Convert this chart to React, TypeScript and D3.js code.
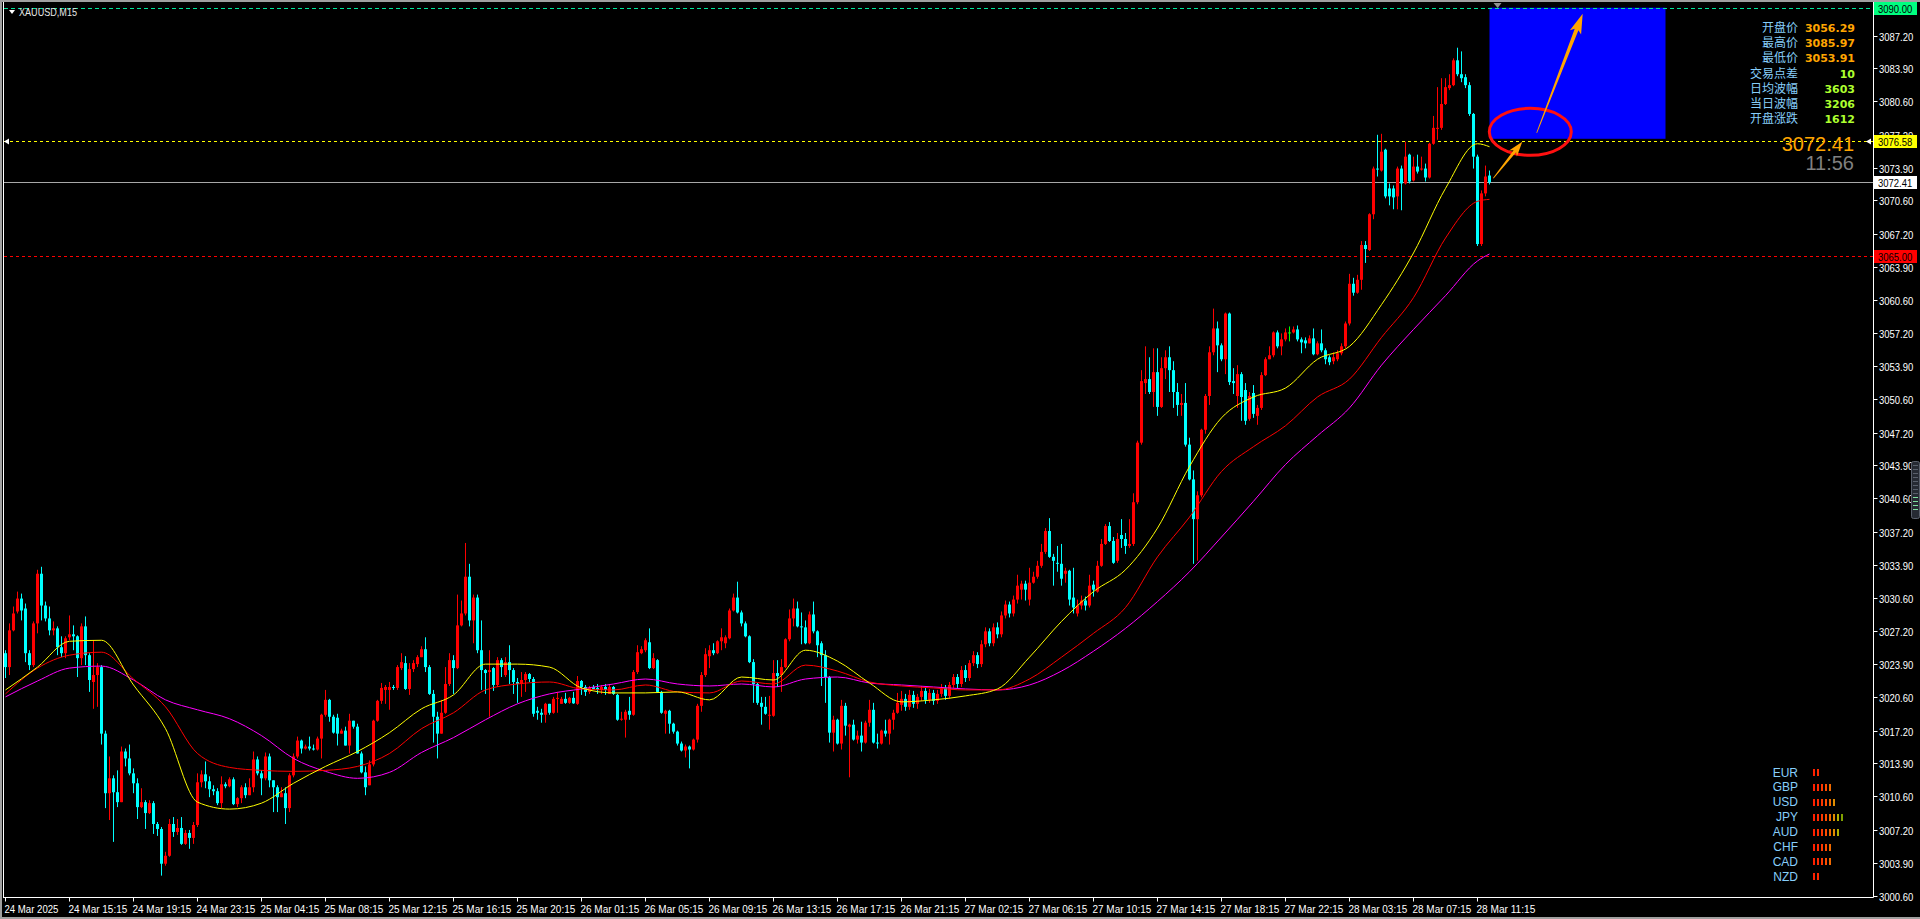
import { useEffect, useRef } from "react";
import * as d3 from "d3";

const W = 1920;
const H = 919;

// time axis labels, one every 16 bars (4h of M15)
const timeLabels = [
  "24 Mar 2025", "24 Mar 15:15", "24 Mar 19:15", "24 Mar 23:15", "25 Mar 04:15", "25 Mar 08:15",
  "25 Mar 12:15", "25 Mar 16:15", "25 Mar 20:15", "26 Mar 01:15", "26 Mar 05:15", "26 Mar 09:15",
  "26 Mar 13:15", "26 Mar 17:15", "26 Mar 21:15", "27 Mar 02:15", "27 Mar 06:15", "27 Mar 10:15",
  "27 Mar 14:15", "27 Mar 18:15", "27 Mar 22:15", "28 Mar 03:15", "28 Mar 07:15", "28 Mar 11:15",
];

const priceTicks = [
  "3087.20", "3083.90", "3080.60", "3077.20", "3073.90", "3070.60", "3067.20", "3063.90", "3060.60",
  "3057.20", "3053.90", "3050.60", "3047.20", "3043.90", "3040.60", "3037.20", "3033.90", "3030.60",
  "3027.20", "3023.90", "3020.60", "3017.20", "3013.90", "3010.60", "3007.20", "3003.90", "3000.60",
];

// XAUUSD M15 candles
const open = [
  3025.0, 3023.6, 3027.3, 3029.2, 3030.5, 3029.5, 3025.0, 3023.8, 3028.0, 3033.0,
  3029.8, 3028.5, 3027.3, 3027.5, 3025.6, 3025.0, 3026.6, 3026.9, 3026.7, 3024.5,
  3027.7, 3024.8, 3022.1, 3022.8, 3023.6, 3016.9, 3010.9, 3012.4, 3011.0, 3010.0,
  3015.1, 3014.4, 3012.9, 3011.9, 3009.5, 3010.0, 3008.9, 3009.9, 3007.8, 3007.3,
  3003.8, 3004.6, 3007.8, 3007.0, 3007.4, 3005.8, 3006.9, 3006.4, 3007.7, 3012.0,
  3012.8, 3012.1, 3011.3, 3011.1, 3009.9, 3011.8, 3011.6, 3012.3, 3009.8, 3010.4,
  3011.5, 3010.7, 3011.5, 3014.3, 3012.9, 3012.4, 3014.6, 3012.2, 3011.5, 3010.5,
  3010.9, 3009.4, 3012.7, 3014.6, 3016.2, 3015.4, 3015.6, 3015.4, 3015.3, 3016.4,
  3018.8, 3020.3, 3018.6, 3018.5, 3016.9, 3017.2, 3015.7, 3018.2, 3017.6, 3014.9,
  3013.0, 3011.7, 3013.8, 3018.2, 3020.2, 3021.3, 3021.3, 3021.6, 3021.5, 3023.5,
  3024.0, 3021.4, 3023.4, 3023.9, 3024.6, 3025.4, 3023.6, 3020.9, 3018.6, 3016.9,
  3019.0, 3021.9, 3024.3, 3023.5, 3027.8, 3029.0, 3032.7, 3028.3, 3030.6, 3025.3,
  3023.3, 3023.1, 3023.5, 3021.8, 3024.3, 3022.8, 3024.1, 3023.3, 3022.1, 3021.9,
  3022.3, 3022.9, 3022.4, 3019.2, 3019.0, 3018.8, 3019.9, 3019.0, 3020.4, 3019.9,
  3020.4, 3020.0, 3020.5, 3019.9, 3022.2, 3021.6, 3021.1, 3021.6, 3021.5, 3021.3,
  3021.6, 3020.9, 3021.6, 3020.8, 3018.3, 3018.3, 3019.2, 3018.8, 3023.1, 3025.0,
  3025.3, 3026.1, 3023.5, 3024.3, 3021.1, 3018.9, 3019.2, 3017.9, 3017.1, 3015.9,
  3015.2, 3015.6, 3015.3, 3016.3, 3019.7, 3022.8, 3024.7, 3025.3, 3025.0, 3026.2,
  3026.0, 3026.5, 3029.3, 3030.6, 3029.1, 3028.0, 3026.7, 3024.1, 3021.9, 3020.0,
  3019.6, 3018.7, 3018.7, 3023.0, 3022.8, 3023.6, 3026.4, 3028.5, 3029.5, 3027.7,
  3027.6, 3026.0, 3028.9, 3027.2, 3026.0, 3024.8, 3022.6, 3017.0, 3018.3, 3015.9,
  3019.7, 3017.6, 3017.8, 3016.3, 3016.7, 3016.0, 3018.0, 3019.3, 3016.0, 3015.9,
  3017.2, 3016.9, 3018.3, 3019.0, 3019.8, 3020.4, 3019.6, 3020.8, 3019.9, 3020.6,
  3021.2, 3020.3, 3021.0, 3020.2, 3020.9, 3021.5, 3020.7, 3021.8, 3022.6, 3021.9,
  3023.3, 3022.5, 3024.0, 3024.8, 3023.9, 3025.9, 3027.2, 3026.0, 3027.6, 3026.9,
  3028.8, 3029.9, 3029.0, 3030.4, 3031.4, 3032.0, 3030.4, 3032.1, 3032.7, 3033.8,
  3035.2, 3037.3, 3034.7, 3034.1, 3034.0, 3033.0, 3033.3, 3030.6, 3029.0, 3029.8,
  3030.3, 3029.8, 3031.9, 3031.2, 3033.8, 3036.0, 3037.8, 3036.3, 3034.3, 3036.9,
  3036.5, 3035.8, 3036.0, 3040.2, 3046.2, 3052.2, 3052.6, 3051.3, 3053.3, 3049.8,
  3053.7, 3054.8, 3053.5, 3051.3, 3050.0, 3050.2, 3046.0, 3042.5, 3038.5, 3040.9,
  3047.5, 3050.9, 3055.3, 3057.7, 3056.0, 3054.6, 3059.2, 3052.4, 3050.9, 3053.1,
  3051.5, 3048.6, 3051.2, 3048.9, 3049.7, 3053.0, 3054.6, 3055.0, 3057.3, 3055.9,
  3056.6, 3057.3, 3057.3, 3057.6, 3056.6, 3056.5, 3056.2, 3056.7, 3055.1, 3056.2,
  3055.5, 3054.8, 3054.4, 3054.6, 3055.2, 3055.9, 3058.2, 3062.2, 3061.3, 3062.6,
  3066.1, 3065.6, 3069.2, 3073.8, 3073.6, 3075.7, 3071.8, 3071.8, 3071.0, 3073.8,
  3072.3, 3075.2, 3072.6, 3074.0, 3073.7, 3073.8, 3072.9, 3076.3, 3077.8, 3077.9,
  3080.3, 3081.9, 3082.2, 3084.7, 3083.3, 3083.0, 3082.2, 3079.3, 3075.0, 3066.2,
  3071.3, 3073.1,
];

const high = [
  3025.3, 3028.0, 3029.7, 3031.2, 3031.0, 3030.0, 3025.3, 3028.2, 3033.4, 3033.7,
  3030.2, 3029.7, 3028.2, 3027.7, 3026.7, 3026.7, 3028.8, 3027.8, 3026.8, 3028.0,
  3028.7, 3025.0, 3026.3, 3024.0, 3023.8, 3017.2, 3014.6, 3012.7, 3013.2, 3015.6,
  3015.4, 3015.8, 3013.4, 3012.4, 3011.4, 3010.2, 3010.2, 3010.1, 3008.0, 3007.5,
  3005.0, 3008.3, 3008.5, 3008.3, 3008.5, 3007.2, 3007.2, 3008.0, 3012.9, 3013.2,
  3014.1, 3012.6, 3011.7, 3011.4, 3012.6, 3012.0, 3012.5, 3012.5, 3010.5, 3011.7,
  3011.9, 3012.4, 3015.1, 3014.6, 3013.2, 3015.0, 3014.9, 3012.2, 3011.7, 3011.5,
  3011.5, 3012.9, 3014.9, 3016.6, 3016.3, 3015.8, 3016.6, 3015.8, 3016.6, 3018.9,
  3021.3, 3020.4, 3018.8, 3018.9, 3017.4, 3017.6, 3018.9, 3018.2, 3017.9, 3015.1,
  3013.6, 3014.2, 3018.3, 3020.3, 3022.0, 3021.8, 3022.1, 3021.8, 3023.8, 3025.0,
  3024.7, 3024.0, 3024.3, 3024.8, 3025.7, 3026.6, 3023.8, 3021.3, 3019.1, 3020.3,
  3023.6, 3025.0, 3024.8, 3030.9, 3030.3, 3036.1, 3034.0, 3030.9, 3030.9, 3028.3,
  3023.4, 3025.3, 3023.6, 3024.6, 3024.5, 3024.6, 3025.8, 3023.5, 3022.5, 3023.1,
  3023.1, 3023.0, 3022.6, 3019.6, 3019.4, 3020.0, 3019.9, 3020.6, 3021.1, 3020.6,
  3021.0, 3020.6, 3021.1, 3022.7, 3022.3, 3021.8, 3021.7, 3021.8, 3021.9, 3021.8,
  3021.9, 3021.9, 3021.7, 3020.9, 3019.1, 3019.3, 3020.6, 3023.3, 3025.8, 3025.7,
  3026.5, 3027.5, 3025.0, 3024.4, 3021.2, 3019.3, 3019.3, 3018.0, 3017.2, 3016.1,
  3015.8, 3015.7, 3016.4, 3019.9, 3023.1, 3025.5, 3025.8, 3026.0, 3026.3, 3027.5,
  3026.8, 3029.5, 3031.0, 3032.2, 3029.3, 3028.2, 3026.8, 3024.4, 3022.0, 3020.6,
  3020.6, 3020.7, 3024.3, 3024.3, 3024.4, 3026.5, 3029.4, 3030.5, 3030.2, 3029.1,
  3028.3, 3029.2, 3030.2, 3027.3, 3026.2, 3025.3, 3022.7, 3018.7, 3018.4, 3020.3,
  3020.0, 3017.9, 3018.3, 3017.2, 3018.1, 3018.2, 3020.3, 3020.0, 3016.9, 3017.3,
  3018.3, 3018.4, 3019.3, 3021.0, 3021.2, 3020.9, 3021.3, 3021.2, 3020.9, 3021.7,
  3021.5, 3021.4, 3021.3, 3021.3, 3021.9, 3021.8, 3022.1, 3022.9, 3022.9, 3023.7,
  3023.8, 3024.3, 3025.2, 3025.1, 3026.3, 3027.6, 3027.5, 3028.0, 3028.1, 3029.2,
  3030.3, 3030.2, 3030.8, 3032.9, 3032.3, 3032.3, 3033.6, 3033.2, 3034.3, 3036.0,
  3037.6, 3038.6, 3035.0, 3035.8, 3036.0, 3033.6, 3033.4, 3033.6, 3030.4, 3030.8,
  3030.7, 3032.9, 3032.3, 3034.3, 3036.5, 3038.0, 3038.2, 3036.7, 3037.1, 3038.5,
  3037.1, 3038.5, 3041.1, 3046.4, 3053.5, 3055.9, 3054.8, 3055.7, 3055.7, 3054.8,
  3055.5, 3055.9, 3054.4, 3052.2, 3051.1, 3052.2, 3046.7, 3043.4, 3041.3, 3047.6,
  3051.1, 3055.9, 3059.7, 3058.4, 3056.2, 3059.3, 3059.3, 3053.7, 3054.0, 3053.3,
  3052.2, 3051.3, 3052.0, 3050.0, 3053.3, 3054.8, 3055.9, 3057.4, 3057.5, 3057.2,
  3057.7, 3057.9, 3057.9, 3058.0, 3056.8, 3056.8, 3057.0, 3057.7, 3056.4, 3057.6,
  3055.7, 3055.0, 3055.3, 3055.5, 3056.2, 3058.4, 3063.2, 3062.8, 3063.1, 3066.5,
  3066.5, 3069.3, 3074.0, 3077.2, 3077.3, 3075.8, 3072.3, 3072.1, 3074.0, 3074.1,
  3076.5, 3075.3, 3075.0, 3075.2, 3075.0, 3074.3, 3076.4, 3079.1, 3082.0, 3082.9,
  3082.9, 3083.3, 3084.9, 3085.97, 3085.6, 3083.3, 3082.5, 3079.4, 3075.2, 3071.6,
  3074.1, 3073.6,
];

const low = [
  3022.5, 3022.8, 3027.2, 3029.0, 3028.3, 3024.1, 3023.3, 3023.6, 3027.0, 3028.3,
  3028.2, 3026.8, 3026.8, 3024.8, 3024.6, 3024.5, 3026.3, 3025.3, 3022.6, 3023.8,
  3023.8, 3021.1, 3019.4, 3019.6, 3015.8, 3009.4, 3008.2, 3006.0, 3009.5, 3010.0,
  3013.6, 3012.7, 3010.9, 3008.3, 3009.4, 3007.3, 3008.8, 3006.8, 3006.6, 3002.6,
  3003.6, 3004.5, 3006.5, 3006.7, 3005.7, 3005.7, 3005.3, 3005.8, 3007.5, 3011.5,
  3011.4, 3010.5, 3010.7, 3009.7, 3009.4, 3011.4, 3011.5, 3009.7, 3009.5, 3009.9,
  3010.4, 3010.7, 3011.0, 3012.7, 3010.7, 3012.2, 3011.5, 3009.0, 3009.0, 3010.5,
  3007.8, 3009.0, 3012.5, 3014.4, 3014.9, 3015.3, 3015.2, 3015.2, 3015.2, 3014.4,
  3018.6, 3018.1, 3016.9, 3015.7, 3016.9, 3015.7, 3014.9, 3017.4, 3014.9, 3012.9,
  3010.7, 3011.7, 3013.6, 3018.1, 3019.9, 3019.9, 3019.3, 3021.3, 3021.3, 3023.3,
  3021.3, 3020.8, 3023.1, 3023.6, 3024.6, 3023.1, 3020.8, 3016.0, 3014.4, 3016.9,
  3018.9, 3021.7, 3020.9, 3023.4, 3027.7, 3028.8, 3027.7, 3026.0, 3025.0, 3021.3,
  3020.9, 3018.6, 3021.2, 3021.6, 3022.6, 3022.6, 3021.9, 3020.9, 3020.0, 3020.6,
  3021.1, 3022.1, 3018.6, 3018.3, 3018.0, 3018.0, 3018.8, 3018.9, 3019.0, 3019.9,
  3019.9, 3019.9, 3019.9, 3019.8, 3020.8, 3020.7, 3020.9, 3021.3, 3020.9, 3020.9,
  3020.8, 3020.9, 3020.8, 3018.2, 3018.2, 3016.5, 3018.3, 3018.7, 3022.9, 3024.9,
  3025.1, 3023.4, 3023.4, 3021.0, 3018.9, 3016.9, 3016.9, 3016.9, 3015.7, 3015.1,
  3014.5, 3013.4, 3015.2, 3016.0, 3019.1, 3022.6, 3023.5, 3024.8, 3024.9, 3025.3,
  3025.5, 3026.4, 3029.2, 3029.0, 3027.7, 3026.6, 3024.0, 3020.0, 3019.8, 3017.8,
  3018.8, 3017.3, 3018.6, 3021.6, 3021.1, 3023.5, 3026.2, 3027.7, 3027.6, 3025.9,
  3025.9, 3025.9, 3027.0, 3024.6, 3021.7, 3020.0, 3016.0, 3015.1, 3015.8, 3015.3,
  3016.7, 3012.5, 3016.2, 3015.9, 3015.1, 3015.9, 3017.6, 3015.9, 3015.4, 3015.8,
  3016.6, 3015.8, 3017.3, 3018.9, 3019.2, 3019.2, 3019.3, 3019.5, 3019.4, 3020.2,
  3019.9, 3020.0, 3019.8, 3019.9, 3020.6, 3020.3, 3020.4, 3021.5, 3021.5, 3021.6,
  3022.1, 3022.2, 3023.7, 3023.5, 3023.6, 3025.6, 3025.7, 3025.7, 3026.5, 3026.6,
  3028.5, 3028.6, 3028.7, 3030.0, 3030.4, 3030.3, 3029.8, 3032.0, 3032.5, 3033.6,
  3035.0, 3034.6, 3031.8, 3033.2, 3031.8, 3032.1, 3029.8, 3029.0, 3028.7, 3029.4,
  3029.3, 3029.6, 3030.7, 3031.1, 3033.7, 3035.9, 3036.2, 3034.0, 3034.1, 3035.6,
  3035.0, 3035.6, 3035.8, 3040.0, 3046.0, 3051.1, 3051.1, 3049.8, 3048.9, 3049.7,
  3052.6, 3051.3, 3049.7, 3048.9, 3048.9, 3045.8, 3042.4, 3034.0, 3034.3, 3040.7,
  3047.1, 3050.0, 3055.0, 3053.3, 3054.4, 3053.1, 3052.0, 3051.1, 3049.7, 3048.4,
  3048.0, 3048.4, 3048.7, 3048.0, 3049.5, 3052.9, 3054.6, 3054.8, 3055.7, 3055.0,
  3056.4, 3056.4, 3057.2, 3056.4, 3055.2, 3055.7, 3056.2, 3055.0, 3055.0, 3055.3,
  3054.1, 3054.0, 3054.1, 3054.4, 3055.0, 3055.7, 3058.0, 3061.0, 3061.2, 3061.6,
  3064.3, 3065.5, 3068.7, 3073.0, 3073.5, 3070.8, 3070.1, 3069.7, 3069.7, 3069.6,
  3072.2, 3072.3, 3072.5, 3073.3, 3073.6, 3072.5, 3072.8, 3076.2, 3076.7, 3077.7,
  3080.2, 3081.7, 3082.1, 3083.1, 3082.5, 3081.9, 3079.1, 3073.8, 3066.0, 3066.0,
  3071.0, 3072.2,
];

const close = [
  3023.6, 3027.3, 3029.0, 3030.5, 3029.3, 3025.0, 3023.8, 3028.0, 3033.0, 3029.8,
  3028.5, 3027.3, 3027.5, 3025.6, 3025.0, 3026.5, 3026.9, 3026.7, 3024.5, 3027.7,
  3024.8, 3022.3, 3022.8, 3023.6, 3016.9, 3010.9, 3012.4, 3011.0, 3010.0, 3015.1,
  3014.4, 3012.9, 3011.9, 3009.5, 3010.0, 3008.9, 3009.9, 3007.8, 3007.3, 3003.8,
  3004.6, 3007.8, 3007.0, 3007.4, 3005.8, 3006.9, 3006.4, 3007.7, 3012.0, 3012.8,
  3012.1, 3011.3, 3011.1, 3009.9, 3011.8, 3011.6, 3012.3, 3009.8, 3010.4, 3011.5,
  3010.7, 3011.5, 3014.3, 3012.9, 3012.4, 3014.6, 3012.2, 3011.5, 3010.5, 3010.9,
  3009.4, 3012.7, 3014.6, 3016.2, 3015.4, 3015.6, 3015.4, 3015.3, 3016.4, 3018.8,
  3020.3, 3018.6, 3017.0, 3016.9, 3017.2, 3015.7, 3018.2, 3017.6, 3014.9, 3013.0,
  3011.5, 3013.8, 3018.2, 3020.2, 3021.5, 3021.6, 3021.6, 3021.5, 3023.6, 3024.1,
  3021.4, 3023.4, 3024.0, 3024.6, 3025.4, 3023.6, 3020.9, 3018.6, 3016.9, 3019.0,
  3021.9, 3024.3, 3023.5, 3027.8, 3029.0, 3032.7, 3028.3, 3030.6, 3025.3, 3023.3,
  3023.0, 3023.3, 3021.8, 3024.3, 3023.6, 3024.1, 3023.3, 3022.1, 3021.9, 3022.3,
  3022.9, 3022.4, 3018.9, 3019.0, 3018.8, 3019.9, 3019.0, 3020.4, 3020.5, 3020.4,
  3020.0, 3020.5, 3019.95, 3022.2, 3021.6, 3021.1, 3021.5, 3021.4, 3021.3, 3021.6,
  3021.3, 3021.6, 3020.9, 3018.3, 3018.4, 3019.1, 3018.8, 3023.1, 3025.1, 3025.4,
  3026.3, 3023.5, 3024.5, 3021.1, 3019.0, 3019.2, 3017.9, 3017.1, 3015.9, 3015.2,
  3015.6, 3015.3, 3016.3, 3019.7, 3022.8, 3024.9, 3025.3, 3025.0, 3026.2, 3026.6,
  3026.6, 3029.3, 3030.6, 3029.1, 3028.0, 3026.7, 3024.1, 3021.9, 3020.0, 3019.6,
  3018.9, 3018.8, 3023.0, 3022.7, 3023.6, 3026.4, 3028.5, 3029.5, 3027.7, 3027.6,
  3026.0, 3028.9, 3027.2, 3025.8, 3024.8, 3022.6, 3017.0, 3018.3, 3015.9, 3019.7,
  3017.7, 3017.8, 3016.3, 3016.7, 3016.0, 3018.0, 3019.3, 3016.0, 3015.9, 3017.2,
  3016.9, 3018.3, 3019.0, 3020.0, 3020.4, 3019.6, 3020.8, 3019.9, 3020.6, 3021.2,
  3020.3, 3021.0, 3020.2, 3020.9, 3021.5, 3020.7, 3021.8, 3022.6, 3021.9, 3023.3,
  3022.5, 3024.0, 3024.8, 3023.9, 3025.9, 3027.2, 3026.0, 3027.6, 3026.9, 3028.8,
  3029.9, 3029.0, 3030.4, 3031.8, 3032.0, 3031.4, 3032.1, 3032.7, 3033.8, 3035.2,
  3037.3, 3034.7, 3034.3, 3034.0, 3032.5, 3033.3, 3030.4, 3029.6, 3029.8, 3030.3,
  3029.8, 3031.8, 3031.4, 3033.8, 3036.0, 3037.8, 3036.3, 3034.1, 3036.5, 3036.5,
  3035.8, 3036.0, 3040.2, 3046.2, 3052.4, 3052.6, 3051.3, 3053.3, 3049.8, 3053.7,
  3054.8, 3053.5, 3051.3, 3050.0, 3050.2, 3046.0, 3042.5, 3038.5, 3040.9, 3047.5,
  3050.9, 3055.3, 3057.7, 3056.0, 3054.6, 3059.2, 3052.3, 3052.2, 3053.1, 3050.8,
  3048.4, 3050.9, 3049.1, 3049.7, 3053.0, 3054.6, 3055.0, 3057.3, 3055.9, 3056.6,
  3057.3, 3057.3, 3057.6, 3056.6, 3056.3, 3056.2, 3056.7, 3055.1, 3056.2, 3055.5,
  3054.6, 3054.3, 3054.8, 3055.2, 3055.9, 3058.2, 3062.2, 3061.3, 3062.6, 3066.1,
  3065.7, 3069.2, 3073.8, 3073.7, 3075.5, 3071.0, 3071.0, 3070.9, 3073.8, 3072.3,
  3075.0, 3072.5, 3074.0, 3073.5, 3073.8, 3072.9, 3076.3, 3077.9, 3077.9, 3080.3,
  3082.0, 3082.2, 3084.7, 3083.3, 3082.9, 3082.2, 3079.3, 3075.0, 3066.2, 3071.3,
  3073.0, 3072.41,
];

// moving averages read every 8 bars
const maBars = [
  0, 8, 16, 24, 32, 40, 48, 56, 64, 72, 80, 88, 96, 104, 112, 120, 128, 136, 144, 152, 160, 168, 176, 184,
  192, 200, 208, 216, 224, 232, 240, 248, 256, 264, 272, 280, 288, 296, 304, 312, 320, 328, 336, 344, 352,
  360, 368, 371,
];
const maFast = [
  3021.3, 3023.6, 3026.2, 3026.3, 3021.8, 3017.4, 3010.0, 3009.3, 3009.9, 3011.9, 3013.6, 3015.1, 3017.0,
  3019.4, 3020.8, 3023.9, 3023.9, 3023.6, 3021.5, 3021.0, 3021.0, 3021.1, 3020.3, 3022.6, 3022.3, 3025.3,
  3024.2, 3022.0, 3020.1, 3020.3, 3020.7, 3021.4, 3024.6, 3028.2, 3031.2, 3033.4, 3037.6, 3043.8, 3048.7,
  3050.8, 3051.7, 3054.6, 3055.9, 3060.1, 3065.3, 3071.8, 3076.3, 3076.0,
];
const maMid = [
  3020.9, 3023.5, 3024.8, 3025.1, 3022.4, 3019.6, 3014.9, 3013.5, 3013.2, 3013.1, 3013.2, 3013.6, 3014.9,
  3017.4, 3019.0, 3021.3, 3021.9, 3022.1, 3021.4, 3021.3, 3021.8, 3021.1, 3021.0, 3022.2, 3021.9, 3023.8,
  3023.2, 3022.1, 3021.7, 3021.5, 3021.3, 3021.3, 3022.4, 3024.6, 3027.0, 3029.6, 3034.7, 3038.7, 3043.3,
  3045.8, 3047.9, 3050.8, 3052.6, 3056.8, 3060.8, 3066.8, 3070.5, 3070.7,
];
const maSlow = [
  3020.6, 3022.2, 3023.5, 3023.7, 3022.3, 3020.3, 3019.3, 3018.4, 3016.7, 3014.4, 3013.1, 3012.4, 3013.0,
  3015.0, 3016.5, 3018.3, 3019.9, 3020.9, 3021.4, 3021.9, 3022.4, 3021.9, 3021.7, 3021.9, 3021.6, 3022.4,
  3022.6, 3022.0, 3021.8, 3021.6, 3021.4, 3021.3, 3021.8, 3023.2, 3025.2, 3027.5, 3030.2, 3033.2, 3036.7,
  3040.3, 3044.0, 3046.9, 3049.7, 3054.0, 3057.6, 3061.0, 3064.5, 3065.2,
];

// info panel
const infoLabels = ["开盘价", "最高价", "最低价", "交易点差", "日均波幅", "当日波幅", "开盘涨跌"];
const infoValues = ["3056.29", "3085.97", "3053.91", "10", "3603", "3206", "1612"];

// currency strength
const currencies = ["EUR", "GBP", "USD", "JPY", "AUD", "CHF", "CAD", "NZD"];
const strength = [2, 5, 6, 8, 7, 5, 5, 2];

const bidPrice = 3072.41;
const levels = { top: 3090.0, yellow: 3076.58, red: 3065.0 };

const UI = "'Liberation Sans', Arial, sans-serif";
const SANS = "'Liberation Sans', Arial, sans-serif";
const CJK = "'Noto Sans CJK SC', 'Noto Sans', sans-serif";
const CHAR_W = 4.9; // terminal font is narrow: force label widths

const arrowPoints = (x0: number, y0: number, x1: number, y1: number, hl: number, hw: number, sw: number) => {
  const dx = x1 - x0;
  const dy = y1 - y0;
  const len = Math.hypot(dx, dy);
  const ux = dx / len;
  const uy = dy / len;
  const nx = -uy;
  const ny = ux;
  const bx = x1 - ux * hl;
  const by = y1 - uy * hl;
  const back = 3;
  return [
    [x0 + nx * 0.4, y0 + ny * 0.4],
    [bx + nx * sw, by + ny * sw],
    [bx - ux * back + nx * hw, by - uy * back + ny * hw],
    [x1, y1],
    [bx - ux * back - nx * hw, by - uy * back - ny * hw],
    [bx - nx * sw, by - ny * sw],
    [x0 - nx * 0.4, y0 - ny * 0.4],
  ].map((p) => p.join(",")).join(" ");
};

const App = () => {
  const svgRef = useRef<SVGSVGElement | null>(null);

  useEffect(() => {
    if (!svgRef.current) return;
    const svg = d3.select(svgRef.current);
    svg.selectAll("*").remove();

    const n = Math.min(open.length, high.length, low.length, close.length);
    const bars = d3.range(n).map((i) => ({ i, o: open[i], h: high[i], l: low[i], c: close[i] }));

    const x = d3.scaleLinear().domain([0, 371]).range([5.5, 1489.5]);
    const y = d3.scaleLinear().domain([3000.6, 3087.2]).range([895.5, 35.5]);

    const plotRight = 1873.5;
    const plotBottom = 897.5;

    const narrowText = (
      g: d3.Selection<SVGGElement, unknown, null, undefined> | d3.Selection<SVGSVGElement, unknown, null, undefined>,
      tx: number, ty: number, s: string, fill: string,
    ) =>
      (g as d3.Selection<SVGGElement, unknown, null, undefined>).append("text")
        .attr("x", tx).attr("y", ty).attr("fill", fill)
        .attr("font-family", UI).attr("font-size", 11)
        .attr("textLength", s.length * CHAR_W).attr("lengthAdjust", "spacingAndGlyphs")
        .text(s);

    svg.append("rect").attr("width", W).attr("height", H).attr("fill", "#000");

    // window frame
    svg.append("rect").attr("x", 0).attr("y", 0).attr("width", W).attr("height", 2).attr("fill", "#a0a0a0");
    svg.append("rect").attr("x", 0).attr("y", 0).attr("width", 2).attr("height", H).attr("fill", "#a0a0a0");
    svg.append("rect").attr("x", 0).attr("y", H - 2).attr("width", W).attr("height", 2).attr("fill", "#a0a0a0");

    const defs = svg.append("defs");
    defs.append("clipPath").attr("id", "plot")
      .append("rect").attr("x", 4).attr("y", 3).attr("width", plotRight - 4).attr("height", plotBottom - 3);

    const plot = svg.append("g").attr("clip-path", "url(#plot)");

    // blue target box
    plot.append("rect")
      .attr("x", x(371)).attr("y", y(levels.top))
      .attr("width", x(415) - x(371)).attr("height", y(3076.8) - y(levels.top))
      .attr("fill", "#0000ff");

    // horizontal levels
    const hLine = (price: number, color: string, dash: string | null) => {
      const py = Math.round(y(price)) + 0.5;
      const l = plot.append("line").attr("x1", 4).attr("x2", plotRight).attr("y1", py).attr("y2", py).attr("stroke", color);
      if (dash) l.attr("stroke-dasharray", dash);
    };
    hLine(levels.top, "#00e69a", "4,3");
    hLine(levels.yellow, "#ffff00", "3,3");
    hLine(bidPrice, "#a8a8a8", null);
    hLine(levels.red, "#ff0000", "3,3");

    const colorOf = (d: { o: number; c: number }) => (d.c > d.o ? "#ff0000" : d.c < d.o ? "#00ffff" : "#00ff00");

    // wicks
    plot.append("g").selectAll("line").data(bars).enter().append("line")
      .attr("x1", (d) => x(d.i)).attr("x2", (d) => x(d.i))
      .attr("y1", (d) => y(d.h)).attr("y2", (d) => y(d.l))
      .attr("stroke", colorOf).attr("stroke-width", 1);

    // bodies
    plot.append("g").selectAll("rect").data(bars).enter().append("rect")
      .attr("x", (d) => x(d.i) - 1.5).attr("width", 3)
      .attr("y", (d) => y(Math.max(d.o, d.c)))
      .attr("height", (d) => Math.max(1, y(Math.min(d.o, d.c)) - y(Math.max(d.o, d.c))))
      .attr("fill", colorOf);

    // moving averages
    const maLine = d3.line<number>()
      .x((_d, k) => x(maBars[k]))
      .y((d) => y(d))
      .curve(d3.curveMonotoneX);
    [
      { v: maSlow, color: "#ff00ff" },
      { v: maMid, color: "#ff0000" },
      { v: maFast, color: "#ffff00" },
    ].forEach((s) => {
      plot.append("path").attr("d", maLine(s.v) ?? "").attr("fill", "none")
        .attr("stroke", s.color).attr("stroke-width", 1);
    });

    // annotations: ellipse and arrows
    plot.append("ellipse")
      .attr("cx", x(381.2)).attr("cy", y(3077.5)).attr("rx", 41).attr("ry", 23.5)
      .attr("fill", "none").attr("stroke", "#ff1010").attr("stroke-width", 3);
    plot.append("polygon")
      .attr("points", arrowPoints(x(382.8), y(3077.4), x(394.3), y(3089.4), 17, 6, 2))
      .attr("fill", "#ffa500");
    plot.append("polygon")
      .attr("points", arrowPoints(x(371.95), y(3072.82), x(379.2), y(3076.5), 12, 5, 1.6))
      .attr("fill", "#ffa500");

    // small markers
    const yy = Math.round(y(levels.yellow)) + 0.5;
    svg.append("polygon").attr("points", `4,${yy} 9,${yy - 3} 9,${yy + 3}`).attr("fill", "#ffffff");
    svg.append("polygon").attr("points", `1866,${yy} 1871,${yy - 3} 1871,${yy + 3}`).attr("fill", "#ffffff");
    svg.append("polygon").attr("points", `${x(372)},3 ${x(373.5) + 2},3 ${x(372.8) + 1},8`).attr("fill", "#909090");

    // plot border
    svg.append("line").attr("x1", 3.5).attr("x2", 3.5).attr("y1", 2).attr("y2", plotBottom).attr("stroke", "#ffffff");
    svg.append("line").attr("x1", plotRight).attr("x2", plotRight).attr("y1", 2).attr("y2", plotBottom).attr("stroke", "#ffffff");
    svg.append("line").attr("x1", 3).attr("x2", plotRight).attr("y1", plotBottom).attr("y2", plotBottom).attr("stroke", "#ffffff");

    // price axis
    const axis = svg.append("g");
    priceTicks.forEach((t) => {
      const py = Math.round(y(+t)) + 0.5;
      axis.append("line").attr("x1", plotRight).attr("x2", plotRight + 4).attr("y1", py).attr("y2", py).attr("stroke", "#ffffff");
      narrowText(axis, 1879, py + 4, t, "#ffffff");
    });

    const boxLabel = (price: number, fill: string, text: string) => {
      const py = Math.round(y(price));
      axis.append("rect").attr("x", plotRight + 0.5).attr("y", py - 6).attr("width", 43).attr("height", 13).attr("fill", fill);
      narrowText(axis, 1878, py + 4.5, text, "#000");
    };
    boxLabel(levels.top, "#00ff80", levels.top.toFixed(2));
    boxLabel(levels.yellow, "#ffff00", levels.yellow.toFixed(2));
    boxLabel(bidPrice, "#ffffff", bidPrice.toFixed(2));
    boxLabel(levels.red, "#ff0000", levels.red.toFixed(2));

    // time axis
    const tAxis = svg.append("g");
    timeLabels.forEach((t, k) => {
      const tx = x(k * 16);
      tAxis.append("line").attr("x1", tx).attr("x2", tx).attr("y1", plotBottom).attr("y2", plotBottom + 4).attr("stroke", "#ffffff");
      narrowText(tAxis, tx - 1, 913, t, "#ffffff");
    });

    // title
    svg.append("polygon").attr("points", "9,10 15,10 12,14").attr("fill", "#ffffff");
    narrowText(svg, 19, 16, "XAUUSD,M15", "#e8e8e8").attr("textLength", 58);

    // info panel
    infoLabels.forEach((lab, k) => {
      const by = 32 + k * 15.2;
      svg.append("text").attr("x", 1798).attr("y", by).attr("text-anchor", "end")
        .attr("fill", "#87cefa").attr("font-family", CJK).attr("font-size", 12).text(lab);
      svg.append("text").attr("x", 1855).attr("y", by).attr("text-anchor", "end")
        .attr("fill", k < 3 ? "#ffa500" : "#adff2f").attr("font-family", "'DejaVu Sans', sans-serif")
        .attr("font-weight", "bold").attr("font-size", 11).text(infoValues[k]);
    });
    svg.append("text").attr("x", 1854).attr("y", 151).attr("text-anchor", "end")
      .attr("fill", "#ffa500").attr("font-family", SANS).attr("font-size", 20).text(bidPrice.toFixed(2));
    svg.append("text").attr("x", 1854).attr("y", 170).attr("text-anchor", "end")
      .attr("fill", "#808080").attr("font-family", SANS).attr("font-size", 20).text("11:56");

    // currency strength meter
    const barColors = ["#ff2000", "#ff2a00", "#ff3800", "#ff4c00", "#f06a00", "#e08c00", "#b0b000", "#80a000"];
    currencies.forEach((cur, k) => {
      const cy = 772 + k * 14.9;
      svg.append("text").attr("x", 1798).attr("y", cy + 4.5).attr("text-anchor", "end")
        .attr("fill", "#87cefa").attr("font-family", SANS).attr("font-size", 12).text(cur);
      d3.range(strength[k]).forEach((j) => {
        svg.append("rect").attr("x", 1813 + j * 4).attr("y", Math.round(cy) - 3).attr("width", 2).attr("height", 7)
          .attr("fill", barColors[j]);
      });
    });

    // small scroll widget on the right edge
    svg.append("rect").attr("x", 1911.5).attr("y", 461.5).attr("width", 8).attr("height", 57).attr("rx", 2)
      .attr("fill", "#262a33").attr("stroke", "#5a606c");
    d3.range(12).forEach((j) => {
      svg.append("line").attr("x1", 1913).attr("x2", 1918).attr("y1", 465.5 + j * 4).attr("y2", 465.5 + j * 4)
        .attr("stroke", j > 7 ? "#7fe0a0" : "#5a606c");
    });
  }, []);

  return (
    <div style={{ position: "fixed", left: 0, top: 0, width: W, height: H, background: "#000" }}>
      <svg ref={svgRef} width={W} height={H} style={{ display: "block" }} />
    </div>
  );
};

export default App;
